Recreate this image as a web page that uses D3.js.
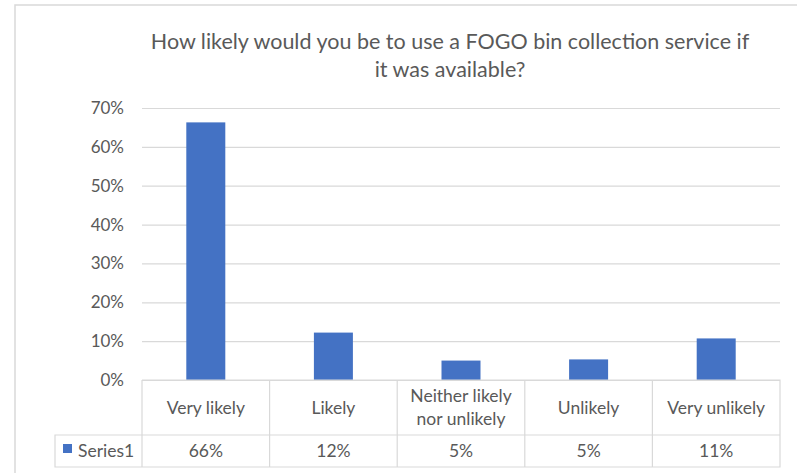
<!DOCTYPE html>
<html><head><meta charset="utf-8">
<script src="https://cdn.jsdelivr.net/npm/d3@7"></script>
<style>body{margin:0;background:#fff}svg{display:block}</style>
</head><body>
<script>
const categories = [["Very likely"], ["Likely"], ["Neither likely", "nor unlikely"], ["Unlikely"], ["Very unlikely"]];
const values = [0.663, 0.122, 0.05, 0.053, 0.107];
const valueLabels = ["66%", "12%", "5%", "5%", "11%"];
const yTicks = [0, 0.1, 0.2, 0.3, 0.4, 0.5, 0.6, 0.7];
const seriesName = "Series1";
const titleLines = ["How likely would you be to use a FOGO bin collection service if", "it was available?"];

const W = 797, H = 473;
const font = "Lato, 'Open Sans', sans-serif";
const textColor = "#595959", gridColor = "#d9d9d9", barColor = "#4472C4";
const plot = {left: 142, right: 780, top: 108, bottom: 380};
const svg = d3.select("body").append("svg").attr("width", W).attr("height", H);

// outer frame
svg.append("path").attr("d", `M15,${H}V5H${W}`).attr("fill", "none").attr("stroke", gridColor).attr("stroke-width", 1.5);

// title
svg.append("text").attr("x", 450).attr("y", 49).attr("text-anchor", "middle")
  .attr("font-family", font).attr("font-size", 21.5).attr("fill", textColor)
  .selectAll("tspan").data(titleLines).join("tspan")
  .attr("x", 450).attr("dy", (d, i) => i ? 28 : 0).text(d => d);

const x = d3.scaleBand().domain(d3.range(categories.length)).range([plot.left, plot.right]).paddingInner(0).paddingOuter(0);
const y = d3.scaleLinear().domain([0, 0.7]).range([plot.bottom, plot.top]);

// gridlines via axis
const yAxis = d3.axisLeft(y).tickValues(yTicks).tickFormat(d3.format(".0%")).tickSize(-(plot.right - plot.left)).tickPadding(18);
const gy = svg.append("g").attr("transform", `translate(${plot.left},0)`).call(yAxis);
gy.select(".domain").remove();
gy.selectAll(".tick line").attr("stroke", gridColor).attr("stroke-width", 1.2);
gy.selectAll(".tick text").attr("font-family", font).attr("font-size", 17).attr("fill", textColor);

// bars
const bw = 39;
svg.append("g").selectAll("rect").data(values).join("rect")
  .attr("x", (d, i) => x(i) + x.bandwidth() / 2 - bw / 2)
  .attr("width", bw)
  .attr("y", d => y(d))
  .attr("height", d => y(0) - y(d))
  .attr("fill", barColor);

// data table
const rowTop = 380, rowMid = 435, rowBot = 467, legLeft = 55;
const tg = svg.append("g").attr("stroke", gridColor).attr("stroke-width", 1.2).attr("fill", "none");
tg.append("path").attr("d", `M${plot.left},${rowTop}H${plot.right}V${rowBot}H${legLeft}V${rowMid}H${plot.right}`);
categories.forEach((c, i) => {
  tg.append("line").attr("x1", x(i)).attr("x2", x(i)).attr("y1", rowTop).attr("y2", rowBot);
});

const fs = 17.5;
const catText = svg.append("g").attr("font-family", font).attr("font-size", fs).attr("fill", textColor).attr("text-anchor", "middle");
categories.forEach((c, i) => {
  const cx = x(i) + x.bandwidth() / 2;
  const cy = (rowTop + rowMid) / 2;
  const lh = 23;
  const t = catText.append("text");
  c.forEach((line, j) => {
    t.append("tspan").attr("x", cx).attr("y", cy + (j - (c.length - 1) / 2) * lh + 6).text(line);
  });
  catText.append("text").attr("x", cx).attr("y", (rowMid + rowBot) / 2 + 6).text(valueLabels[i]);
});

// legend in table
svg.append("rect").attr("x", 63).attr("y", 444).attr("width", 9).attr("height", 9).attr("fill", barColor);
svg.append("text").attr("x", 78).attr("y", (rowMid + rowBot) / 2 + 6).attr("font-family", font).attr("font-size", fs).attr("fill", textColor).text(seriesName);
</script>
</body></html>
